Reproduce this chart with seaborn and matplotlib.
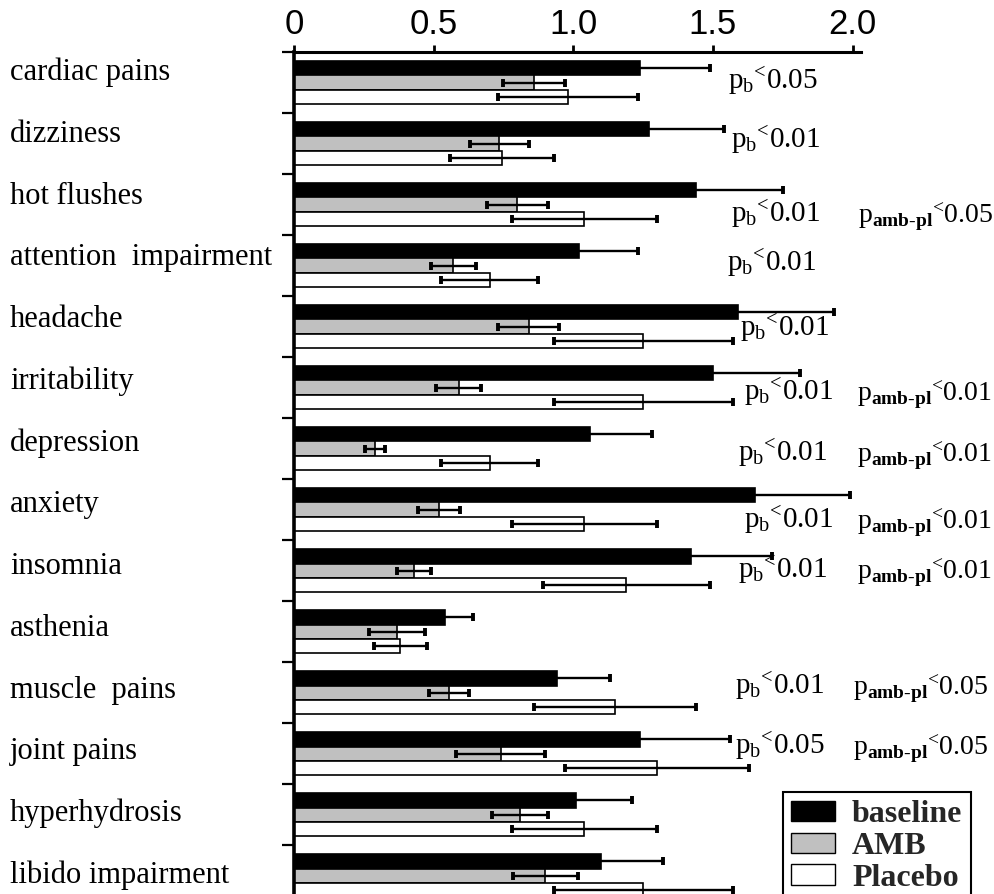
import matplotlib
matplotlib.use("Agg")
import matplotlib.pyplot as plt
import matplotlib.transforms as mtransforms
from matplotlib.patches import Patch
import numpy as np
import pandas as pd
import seaborn as sns

# ---------------- data ----------------
categories = ["cardiac pains", "dizziness", "hot flushes", "attention  impairment",
              "headache", "irritability", "depression", "anxiety", "insomnia",
              "asthenia", "muscle  pains", "joint pains", "hyperhydrosis",
              "libido impairment"]
groups = ["baseline", "AMB", "Placebo"]

baseline = [1.24, 1.27, 1.44, 1.02, 1.59, 1.50, 1.06, 1.65, 1.42, 0.54, 0.94, 1.24, 1.01, 1.10]
baseline_err = [0.25, 0.27, 0.31, 0.21, 0.345, 0.31, 0.22, 0.34, 0.29, 0.10, 0.19, 0.32, 0.20, 0.22]
amb = [0.86, 0.735, 0.80, 0.57, 0.84, 0.59, 0.29, 0.52, 0.43, 0.37, 0.555, 0.74, 0.81, 0.90]
amb_err = [0.11, 0.105, 0.11, 0.08, 0.11, 0.08, 0.035, 0.075, 0.06, 0.10, 0.07, 0.16, 0.10, 0.115]
placebo = [0.98, 0.745, 1.04, 0.70, 1.25, 1.25, 0.70, 1.04, 1.19, 0.38, 1.15, 1.30, 1.04, 1.25]
placebo_err = [0.25, 0.185, 0.26, 0.175, 0.32, 0.32, 0.175, 0.26, 0.30, 0.095, 0.29, 0.33, 0.26, 0.32]

pb_labels = ["<0.05", "<0.01", "<0.01", "<0.01", "<0.01", "<0.01", "<0.01",
             "<0.01", "<0.01", "", "<0.01", "<0.05", "", ""]
pab_labels = ["", "", "<0.05", "", "", "<0.01", "<0.01", "<0.01", "<0.01",
              "", "<0.05", "<0.05", "", ""]

x_ticks = [0, 0.5, 1.0, 1.5, 2.0]
x_ticklabels = ["0", "0.5", "1.0", "1.5", "2.0"]

# annotation placement (style)
pb_x = [1.554, 1.564, 1.564, 1.55, 1.598, 1.612, 1.591, 1.612, 1.591, 0, 1.58, 1.58, 0, 0]
pb_dy = [0.10, 0.07, 0.28, 0.09, 0.16, 0.21, 0.21, 0.30, 0.12, 0, 0.03, 0.0, 0, 0]
pab_x = [0, 0, 2.02, 0, 0, 2.016, 2.016, 2.016, 2.016, 0, 2.0, 2.0, 0, 0]

colors = ["black", "#c0c0c0", "white"]

# ---------------- plot ----------------
sns.set_theme(style="white")
plt.rcParams["font.family"] = ["Liberation Serif", "DejaVu Serif"]
plt.rcParams["mathtext.fontset"] = "custom"
plt.rcParams["mathtext.rm"] = "Liberation Serif"
plt.rcParams["mathtext.it"] = "Liberation Serif:italic"
plt.rcParams["mathtext.bf"] = "Liberation Serif:bold"

fig = plt.figure(figsize=(9.95, 8.94), dpi=100)
ax = fig.add_axes([294 / 995, 0.0, 567 / 995, 1 - 52 / 894])

df = pd.DataFrame({
    "symptom": categories * 3,
    "group": [g for g in groups for _ in categories],
    "value": baseline + amb + placebo,
})

sns.barplot(data=df, x="value", y="symptom", hue="group", orient="h",
            order=categories, hue_order=groups,
            palette=dict(zip(groups, colors)), width=0.7, errorbar=None,
            saturation=1, edgecolor="black", linewidth=1.2, legend=False, ax=ax)

errs = [baseline_err, amb_err, placebo_err]
for cont, err in zip(ax.containers, errs):
    ys = [p.get_y() + p.get_height() / 2 for p in cont]
    xs = [p.get_width() for p in cont]
    ax.errorbar(xs, ys, xerr=err, fmt="none", ecolor="black", elinewidth=1.7,
                capsize=3, capthick=2.8, zorder=5)

ax.set_xlim(0, 2.03)
ax.set_ylim(13.30, -0.5)
ax.set_xlabel("")
ax.set_ylabel("")

ax.xaxis.tick_top()
ax.set_xticks(x_ticks)
ax.set_xticklabels(x_ticklabels)
ax.tick_params(axis="x", which="major", top=True, bottom=False, direction="out",
               length=5, width=2, pad=3, labelsize=25, colors="black",
               labelfontfamily="Liberation Sans")
ax.set_yticks(np.arange(-0.5, 13.0, 1.0))
ax.set_yticklabels([])
ax.tick_params(axis="y", left=True, direction="out", length=8.5, width=1.6,
               colors="black")

for s in ["right", "bottom"]:
    ax.spines[s].set_visible(False)
ax.spines["top"].set_linewidth(2.2)
ax.spines["left"].set_linewidth(2.6)
ax.spines["top"].set_color("black")
ax.spines["left"].set_color("black")

trans = mtransforms.blended_transform_factory(fig.transFigure, ax.transData)
for i, c in enumerate(categories):
    ax.text(10 / 995, i - 0.04 + 0.012 * i, c, transform=trans, ha="left",
            va="baseline", fontsize=22, color="black")

for i in range(len(categories)):
    if pb_labels[i]:
        ax.text(pb_x[i], i + pb_dy[i],
                r"$\mathregular{p}_{\mathregular{b}}{}^{\text{<}}\mathregular{"
                + pb_labels[i][1:] + "}$",
                ha="left", va="baseline", fontsize=21, color="black", clip_on=False)
    if pab_labels[i]:
        ax.text(pab_x[i], i + pb_dy[i],
                r"$\mathregular{p}_{\mathbf{amb\text{-}pl}}{}^{\text{<}}\mathregular{"
                + pab_labels[i][1:] + "}$",
                ha="left", va="baseline", fontsize=20, color="black", clip_on=False)

handles = [Patch(facecolor=c, edgecolor="black", linewidth=1.0) for c in colors]
leg = fig.legend(handles, groups, loc="upper left",
                 bbox_to_anchor=(783 / 995, 1 - 792 / 894),
                 bbox_transform=fig.transFigure, frameon=True, fancybox=False,
                 framealpha=1, edgecolor="black", borderpad=0.26,
                 handlelength=1.38, handleheight=0.62, handletextpad=0.52,
                 labelspacing=0.09, borderaxespad=0,
                 prop={"family": "Liberation Serif", "weight": "bold", "size": 23})
leg.get_frame().set_linewidth(1.5)

fig.savefig("out.png", dpi=100)
